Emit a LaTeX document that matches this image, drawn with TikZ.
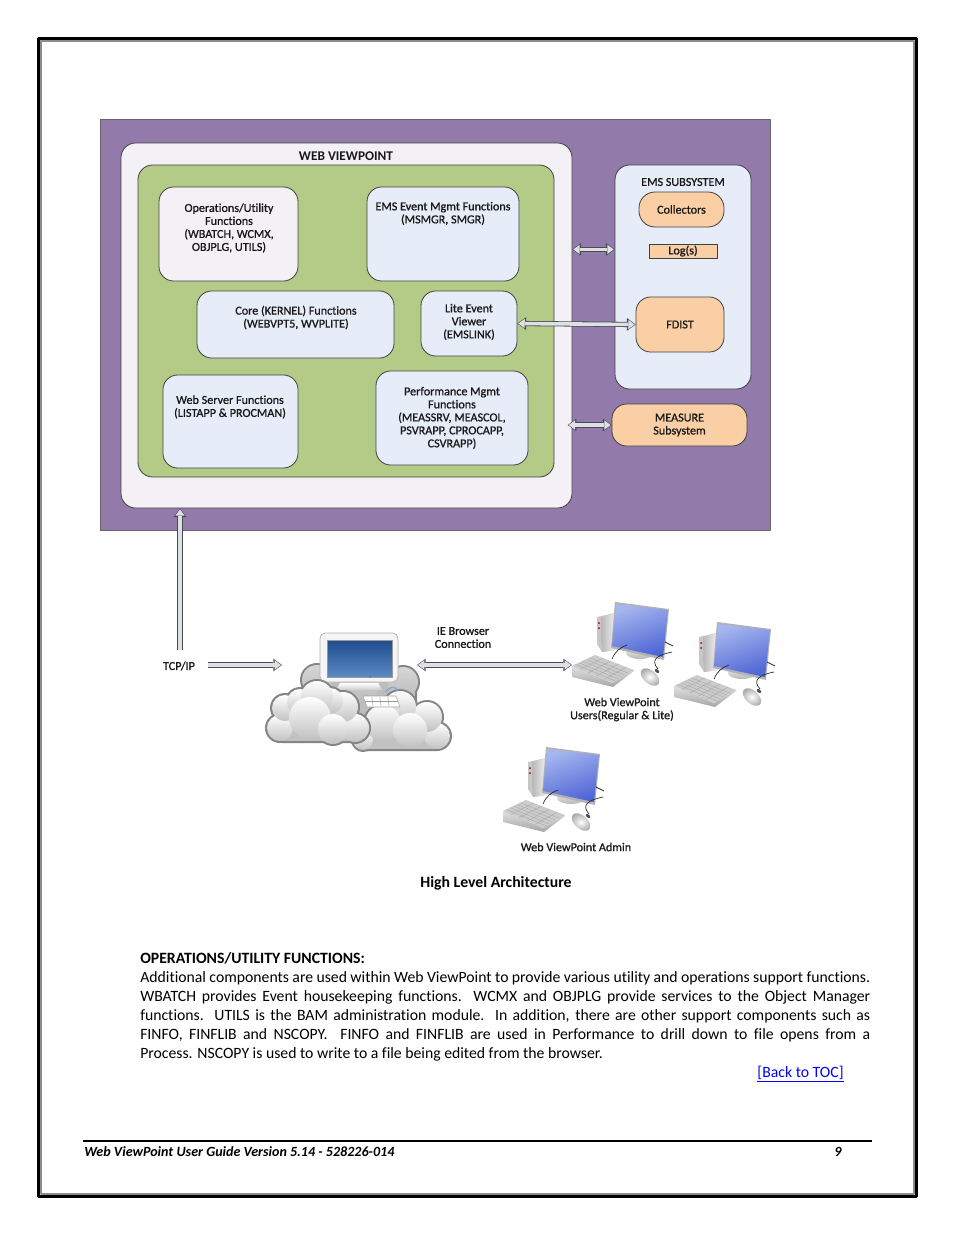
\documentclass[tikz,border=0pt]{standalone}
\usepackage{fontspec}
\setmainfont[Ligatures=NoCommon]{Carlito}
\newfontfamily\labelfont[FakeBold=1,Ligatures=NoCommon]{Carlito}
\usetikzlibrary{arrows.meta,calc}
\definecolor{pagegray}{HTML}{8C8C8C}
\definecolor{purplebg}{HTML}{927AAB}
\definecolor{outerbg}{HTML}{F3F1F6}
\definecolor{greenbg}{HTML}{B4CB87}
\definecolor{bluebox}{HTML}{E6EDF8}
\definecolor{orangebox}{HTML}{FBCFA6}
\definecolor{arrowgray}{HTML}{DDE0E6}
\definecolor{screenlight}{HTML}{A6B6EE}
\definecolor{screendark}{HTML}{4F66D6}
\definecolor{servertop}{HTML}{1F4C8C}
\definecolor{serverbottom}{HTML}{5C8AC4}
\tikzset{
	box/.style={draw=black!75,line width=.6pt,rounded corners=11pt,inner sep=0pt},
	lbl/.style={font=\labelfont\fontsize{9.1}{9.75}\selectfont,align=center,inner sep=0pt,text=black!90},
	bigarrow/.style={
		preaction={draw=black!70,line width=3.9pt,shorten >=0pt,shorten <=0pt,-{Triangle[length=6.5pt,width=9.5pt,line width=0pt]}},
		draw=arrowgray,line width=2.7pt,shorten >=.7pt,-{Triangle[length=4.8pt,width=7pt,line width=0pt]}},
	bigboth/.style={
		preaction={draw=black!70,line width=3.9pt,shorten >=0pt,shorten <=0pt,{Triangle[length=6.5pt,width=9.5pt,line width=0pt]}-{Triangle[length=6.5pt,width=9.5pt,line width=0pt]}},
		draw=arrowgray,line width=2.7pt,shorten >=.7pt,shorten <=.7pt,{Triangle[length=4.8pt,width=7pt,line width=0pt]}-{Triangle[length=4.8pt,width=7pt,line width=0pt]}},
}
\newcommand\cloudpuffs[4]{
	\foreach \x/\y/\r in {#1} \fill[black!48] (\x,\y) circle [radius=\r+2];
	\draw[black!48,fill=black!48,line width=3pt,rounded corners=3pt] #2;
	\fill[#4] #2;
	\foreach \x/\y/\r in {#1} \shade[top color=#3,bottom color=#4] (\x,\y) circle [radius=\r];
}
\newcommand\pcicon[1]{
	\begin{scope}[shift={(#1)}]
		\fill[black!22] (597,617)--(615,613)--(616,650)--(602,652)--(597,644)--cycle;
		\shade[left color=black!28,right color=black!5] (601,617)--(616,613)--(616,650)--(602,652)--cycle;
		\fill[red!70!black] (599,623) circle [radius=1] (599,628) circle [radius=1];
		\shade[top color=black!6,bottom color=black!28] (640,653) ellipse [x radius=14,y radius=6];
		\shade[left color=black!28,right color=black!5] (634,642)--(646,644)--(645,653)--(635,653)--cycle;
		\fill[black!30] (615,602)--(669,609)--(664,660)--(611,648)--cycle;
		\shade[left color=screenlight,right color=screendark,shading angle=20] (616,604)--(668,610)--(663,657)--(612,646)--cycle;
		\draw[black!85,line width=.5pt] (612,659) .. controls (616,650) and (620,648) .. (627,645);
		\draw[black!85,line width=.6pt] (665,642)--(673,646);
		\draw[black!85,line width=.5pt] (658,669) .. controls (650,660) and (657,655) .. (672,652);
		\coordinate (keya) at (572,666);
		\coordinate (keyb) at (595,655);
		\coordinate (keyc) at (634,670);
		\coordinate (keyd) at (612,683);
		\shade[top color=black!12,bottom color=black!35] (keya)--(572,677)--(613,687)--(634,671)--(keyc)--(keyd)--cycle;
		\fill[black!20] (keya)--(keyb)--(keyc)--(keyd)--cycle;
		\foreach \t in {.15,.3,...,.9} \draw[black!38,line width=.2pt] ($(keya)!\t!(keyb)$)--($(keyd)!\t!(keyc)$);
		\foreach \t in {.2,.4,.6,.8} \draw[black!38,line width=.2pt] ($(keya)!\t!(keyd)$)--($(keyb)!\t!(keyc)$);
		\shade[inner color=white,outer color=black!32,rotate around={-42:(650,677)}] (650,677) ellipse [x radius=11,y radius=6.5];
		\fill[black!70,rotate around={-42:(657,671)}] (657,671) ellipse [x radius=2.5,y radius=1.6];
	\end{scope}
}
\begin{document}
\begin{tikzpicture}[x=.75pt,y=-.75pt,>=stealth,line join=round]
	\def\px{.75pt}
	\useasboundingbox (0,0) rectangle (954,1235);
	\fill[white] (0,0) rectangle (954,1235);
	\draw[pagegray,line width=2.4*\px] (41.2,41.2) rectangle (914,1194);
	\draw[black,line width=3*\px] (38.5,38.5) rectangle (916,1196);

	\node[draw=black!60,line width=.6pt,fill=purplebg,inner sep=0pt,minimum width=670*\px,minimum height=411*\px] (viewpointbg) at (435,324.5) {};
	\node[box,fill=outerbg,minimum width=451*\px,minimum height=365*\px] (outer) at (346.5,325.5) {};
	\node[box,fill=greenbg,minimum width=416*\px,minimum height=312*\px] (green) at (346,321) {};
	\node[lbl,font=\bfseries\fontsize{10}{10}\selectfont] (webviewpoint) at (346,156) {WEB VIEWPOINT};

	\node[box,fill=outerbg,minimum width=139*\px,minimum height=94*\px] (operations) at (228.5,234) {};
	\node[lbl] (operationstext) at (229,228) {Operations/Utility\\Functions\\(WBATCH, WCMX,\\OBJPLG, UTILS)};
	\node[box,fill=bluebox,minimum width=152*\px,minimum height=94*\px] (emsevent) at (443,234) {};
	\node[lbl] (emseventtext) at (443,213.5) {EMS Event Mgmt Functions\\(MSMGR, SMGR)};
	\node[box,fill=bluebox,minimum width=197*\px,minimum height=67*\px] (core) at (295.5,324.5) {};
	\node[lbl] (coretext) at (296,317.5) {Core (KERNEL) Functions\\(WEBVPT5, WVPLITE)};
	\node[box,fill=bluebox,minimum width=96*\px,minimum height=65*\px] (lite) at (469,323.5) {};
	\node[lbl] (litetext) at (469,322) {Lite Event\\Viewer\\(EMSLINK)};
	\node[box,fill=bluebox,minimum width=135*\px,minimum height=93*\px] (webserver) at (230.5,421.5) {};
	\node[lbl] (webservertext) at (230,407) {Web Server Functions\\(LISTAPP \& PROCMAN)};
	\node[box,fill=bluebox,minimum width=152*\px,minimum height=94*\px] (performance) at (452,418) {};
	\node[lbl] (performancetext) at (452,418) {Performance Mgmt\\Functions\\(MEASSRV, MEASCOL,\\PSVRAPP, CPROCAPP,\\CSVRAPP)};

	\node[box,fill=bluebox,minimum width=136*\px,minimum height=224*\px] (ems) at (683,277) {};
	\node[lbl] (emstext) at (683,182) {EMS SUBSYSTEM};
	\node[box,lbl,fill=orangebox,rounded corners=12pt,minimum width=85*\px,minimum height=35*\px] (collectors) at (681.5,209.5) {Collectors};
	\node[box,lbl,fill=orangebox,rounded corners=0pt,minimum width=68*\px,minimum height=14*\px] (logs) at (683,251) {Log(s)};
	\node[box,lbl,fill=orangebox,minimum width=88*\px,minimum height=55*\px] (fdist) at (680,324.5) {FDIST};
	\node[box,lbl,fill=orangebox,minimum width=135*\px,minimum height=42*\px] (measure) at (679.5,425) {MEASURE\\Subsystem};

	\draw[bigboth] ([yshift=1.2pt]outer.east |- logs.west) -- ([yshift=1.2pt]ems.west |- logs.west);
	\draw[bigboth] (lite.east) -- (fdist.west);
	\draw[bigboth] ([xshift=-3.5pt]outer.east |- measure.west) -- (measure.west);

	\node[lbl] (tcpip) at (179,666) {TCP/IP};
	\coordinate (tcpup) at (180,650);
	\coordinate (tcpright) at (208,665);
	\coordinate (cloudwest) at (282,665);
	\coordinate (cloudeast) at (417,665);
	\coordinate (userswest) at (572,665);
	\draw[bigarrow] (tcpup) -- (tcpup |- outer.south);
	\draw[bigarrow] (tcpright) -- (cloudwest);
	\draw[bigboth] (cloudeast) -- (userswest);

	\cloudpuffs{317/680/15,403/682/15,360/682/20}{(310,680) rectangle (415,715)}{black!16}{black!26}
	\cloudpuffs{363/740/10,437/736/13,427/717/15,400/707/16,383/723/18,410/730/17}{(358,728) rectangle (441,749)}{white}{black!24}
	\draw[black!30,fill=black!4,line width=.6pt,rounded corners=4pt] (320,633) rectangle (398,682);
	\shade[top color=servertop,bottom color=serverbottom,draw=black!40,line width=.3pt] (327,640) rectangle (392,677);
	\fill[black!70] (370,677) circle [radius=.6];
	\shade[top color=white,bottom color=black!20] (340,683)--(378,683)--(382,690)--(336,690)--cycle;
	\draw[cyan!50!blue!50,line width=.9pt] (385,692) .. controls (390,686) and (396,686) .. (398,691);
	\draw[black!35,fill=white,line width=.4pt] (363,696)--(396,696)--(400,707)--(367,707)--cycle;
	\foreach \k in {372,380,388} \draw[black!40,line width=.3pt] (\k,697)--(\k+1,706);
	\draw[black!40,line width=.3pt] (365,701)--(398,701);
	\cloudpuffs{280/728/13,285/708/13,355/728/14,343/707/15,300/702/13,330/701/13,317/697/16,310/718/21,333/729/15}{(278,724) rectangle (358,741)}{white}{black!24}

	\node[lbl] (ieconnection) at (463,637.5) {IE Browser\\Connection};
	\pcicon{0,0}
	\pcicon{102,20}
	\node[lbl] (users) at (622,709.5) {Web ViewPoint\\Users(Regular \& Lite)};
	\pcicon{-69,145}
	\node[lbl] (admin) at (576,847) {Web ViewPoint Admin};

	\node[font=\bfseries\fontsize{11.8}{14.25}\selectfont,inner sep=0pt] (caption) at (496,883.5) {High Level Architecture};
	\node[font=\bfseries\fontsize{11.8}{14.25}\selectfont,inner sep=0pt,anchor=base west] (heading) at (140,963) {OPERATIONS/UTILITY FUNCTIONS:};
	\node[font=\fontsize{11.8}{14.25}\selectfont,inner sep=0pt,anchor=north west,text width=730*\px,align=justify] (body) at (140,971) {Additional components are used within Web ViewPoint to provide various utility and operations support functions.\linebreak
	WBATCH provides Event housekeeping functions. WCMX and OBJPLG provide services to the Object Manager\linebreak
	functions.\ \ UTILS is the BAM administration module.\ \ In addition, there are other support components such as\linebreak
	FINFO, FINFLIB and NSCOPY.\ \ FINFO and FINFLIB are used in Performance to drill down to file opens from a\linebreak
	Process. NSCOPY is used to write to a file being edited from the browser.};
	\node[font=\fontsize{11.8}{14.25}\selectfont,text=blue,inner sep=0pt] (backtoc) at (800.5,1074) {\underline{[Back to TOC]}};

	\node[font=\bfseries\itshape\fontsize{10.55}{12}\selectfont,inner sep=0pt,anchor=base west] (footer) at (84,1156) {Web ViewPoint User Guide Version 5.14 - 528226-014};
	\node[font=\bfseries\itshape\fontsize{10.55}{12}\selectfont,inner sep=0pt,anchor=base] (pagenumber) at (838,1156) {9};
	\draw[black,line width=2*\px] (83,1141) -- (872,1141);
\end{tikzpicture}
\end{document}
